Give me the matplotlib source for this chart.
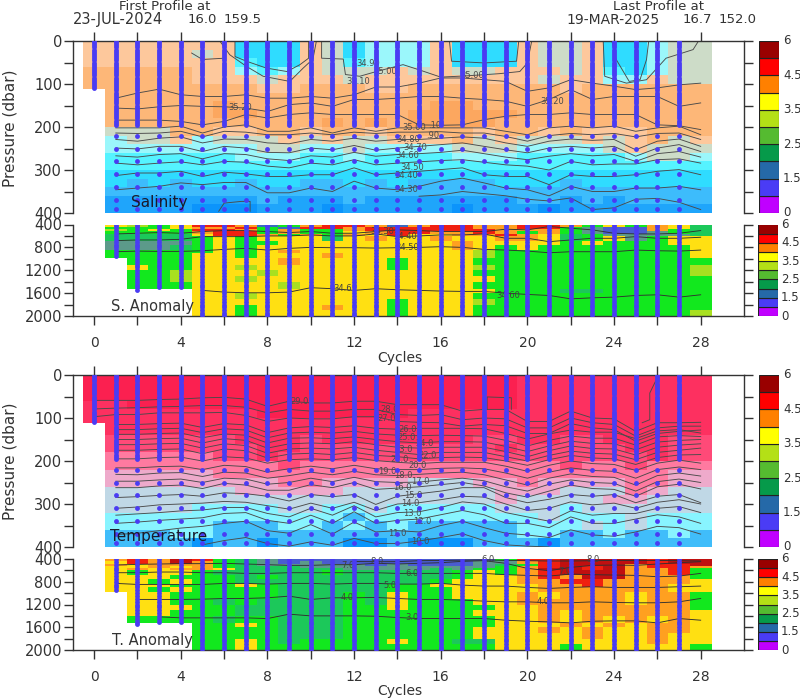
import numpy as np
import matplotlib
matplotlib.use("Agg")
import matplotlib.pyplot as plt
from matplotlib.colors import ListedColormap

#%% grids, one letter per cycle (0-28), one string per depth row
sal_rows = [
    "aaaaa aajjj agjhh hajjj aggaj jhgg",
    "aaaaa gajjj agjhh hajjj aggaj jhgg",
    "aaaaa aaijj agihh hajjj aggaj jhgg",
    "bbbbb aahih aggga gagga aagai jhgg",
    "bbbbb aaaga aagaa aaaaa agaah hagg",
    "bbbbb bbbaa bbbaa bbbbb bbabb bbbb",
    "bbbbb bbbbb bbbbb bbbbb bbbbb bbbb",
    "bbbbb bcbbb bbbbb bccbb bbbbb bbbb",
    "bbbbb bccbb bbbbb ccccc bbbbb bbbb",
    "bbbbb bbbbb bcbcb ccccb bbbbb bbbb",
    "ggggb baabb abbab bbbab babaa abbb",
    "hhgga hggga gagga aabga gggag abga",
    "hhhhh hhhgg hhghh hhggg hhhhg aggg",
    "iiiii iihhh iihii iihhh iiiii hggh",
    "jiiii iiiii iiiii iiiii iiiii iiii",
    "jjjjj jjjjj jjjjj jjjjj jjjjj jjjj",
    "kjkjk jjkjj kkjkj kkkkj jjkjj jjjj",
    "kkkkk kkkkk kkkkk kkkkk kkkkk kkkk",
    "lllll lllkl llkll lllll kklkl kkkk",
    "lllll mmmll lmlll llmll lmlll llll",
]
temp_rows = [
    "aaaaa aaaaa aaaaa aaaaa bbbbb bbbb",
    "aaaaa aaaaa aaaaa aaaaa bbbbb bbbb",
    "aaaaa aaaaa aaaaa aaaaa bbbbb bbbb",
    "bbaaa aaaaa aaaaa aaaaa bbbbb bbbb",
    "bbbbb bbbaa aaaaa bbbbb bbbbb bbbb",
    "bbbbb bbbbb bbbbb bbbbb bbbbb bbbb",
    ".bbbb bbbbb bbbbb bbbbb bbbbb bbbb",
    ".cccc ccbbb cbbbb bbbcc bbccb bbcc",
    ".cccc cccbb ccccc ccccb ccccc bbcc",
    ".dddd dccbc ccccc ccccc ccccc cbcc",
    ".dddd ddddc ddddd ddddd ddcdd cddd",
    ".eeee edddd ddddd ddddd ddddd ddee",
    ".eeee eeeed deeee fffee deeee ddee",
    ".ffff ffeee eefff ffffe eefff deff",
    ".ffff fffff fffff ffffe ffffe efff",
    ".ffff ggggf fggfg ggggf ffgff ffff",
    ".gggg ggggg gghgg ggggg gfggg fggg",
    ".gggg ghhhg ghghg hhhhh gggfg fggg",
    ".hhhg ghhhh hhhhh hhhhh gghhg hhgh",
    ".hhhh ihhih hhiih iiihh hihhh hhhh",
]
sa_rows = [
    ".ylgy rroug orrou orroo rrogy goyt",
    ".gggy oorgu rrorr rrroo rrgsv voyt",
    ".lgyg rrogo ggorr rrrro oogsv vogt",
    ".gggg orrgo ggyor rooro gogsv vsgt",
    ".tttt yrrog ogoyr yyoor oytgs ssst",
    ".tttt gygyy ytyoy yoyyo oytgy sgyy",
    ".ssss gyggy yyyyy yyoyy yygyg ggyy",
    ".ssst gygyy yyyyy yyoyg ygggg gggy",
    ".gggg gygyo yyyyy yyylg ggggg gggy",
    ".gggg yygyy yoyyy yyylg ggggg gggy",
    "..ggg yyyyo yyyyg yyygg ggggg gggg",
    "..ygg yylyy yyyyg yyylg ggggg gggl",
    "..ggl yyyly yyyyy yyygg ggggg gggl",
    "..ggl yylyy yyyyy yyyyg ggggg gggg",
    "..ggg yyyyl yyyyy yyygg ggggg gggg",
    "..... yyyyy yyyyy yyyyg ggttg gggg",
    "..... yylyy yyyyy yyygg ggggg gggg",
    "..... yyyyy yyyyg yyylg ggggg gggg",
    "..... yygyy yoyyg yyygg ggggg gggg",
    "..... yygyy yyyyg yyygg ggggg gggl",
]
ta_rows = [
    ".orod rgtsv vvvvv vvvvg rrddd drdd",
    ".yrod ogtsv svvvv vvvss orddd drdd",
    ".oyoo ogtss sssvs vvvst grddd orrd",
    ".yyoy ogttt sssss ssssg ordrd orro",
    ".yoyo oyttt ttsss stsgg oddrd oorg",
    ".ygyy gtttt tgttt ttgyg orddd oorg",
    ".yyyg ggtgt ttttt ttgyy orodd ooog",
    ".yygy ggttt ttttt tgyyy oorro oooy",
    ".yyyg ggygt ttttg gyyyy yooro ooyy",
    ".yygy ggggt ttttg ggyyy yoooo ooyy",
    "..yyg ggggt ttgty ggyyy oyooo yoog",
    "..yyg gtgtt ttgty gggyy ooooo yoog",
    "..yyy ggttt ttggy ggggy yoooo ooog",
    "..yyg ggttt ttggg gggyy yoyoo oooy",
    "..ggg gtggt ttggg ggggy yoyoy oyoy",
    "..... ggygt ttggg ggggy yyoyo yooy",
    "..... ggggt ttggg gggyy yoyoy yooy",
    "..... ggggt ttggg gggyy yyyoy yoyy",
    "..... ggygt ggggy ggtty yyyyy yoyy",
    "..... ggygg ggggg ggggy yygyy yyyg",
]
upper_edges = [0, 20, 40, 60, 80, 100, 120, 140, 160, 180, 200, 220, 240, 260, 280, 300, 320, 340, 360, 380, 400]
lower_edges = [400, 440, 480, 520, 560, 600, 680, 760, 840, 900, 980, 1100, 1200, 1300, 1400, 1520, 1600, 1700, 1800, 1900, 2000]
first_cycle_bottom = 112

sal_shades = {"a": "#fdc89c", "b": "#fdb778", "c": "#fca75f", "g": "#cddcc8", "h": "#9bf7fb", "i": "#55f3ff",
              "j": "#2fdcff", "k": "#3dbcfc", "l": "#1fa5fb", "m": "#0c94fb"}
temp_shades = {"a": "#fb2050", "b": "#fd3060", "c": "#ff4a78", "d": "#ff7aa0", "e": "#eeaacb", "f": "#c0d8e6",
               "g": "#88f4ff", "h": "#40bdfa", "i": "#0a96fb"}
anom_shades = {"g": "#12e81e", "y": "#ffe012", "o": "#ffa020", "r": "#f02010", "d": "#c01010", "t": "#1cc85a",
               "s": "#5c9a8a", "u": "#3a6cc0", "v": "#4a5cd0", "l": "#a8e020"}

#%% contour lines, depth at each cycle, second value is the first cycle of the line
sal_lines = [
    (1, [133,121,112,125,129,129,125,133,133,129,133,125,107,107,98,86,86,90,94,117,109,90,98,105,113,109,102,98]),
    (1, [156,158,153,150,152,153,156,164,148,144,152,136,136,133,129,129,133,136,140,152,136,113,136,129,129,129,152,144]),
    (1, [184,184,184,187,195,187,171,179,171,167,171,171,171,171,195,196,195,183,175,171,171,167,171,171,171,195,197,206]),
    (1, [202,202,202,198,214,200,195,210,210,202,214,202,210,202,202,202,202,202,210,218,202,198,202,198,210,202,198,218]),
    (1, [214,215,214,210,223,210,212,218,218,214,218,212,215,212,212,211,214,214,222,233,220,215,218,215,223,215,214,229]),
    (1, [229,233,226,223,237,228,229,237,239,229,233,226,233,229,229,226,223,226,237,245,233,228,231,229,253,233,228,245]),
    (1, [249,251,245,245,257,245,249,259,260,249,253,243,254,249,245,241,237,245,253,260,249,245,249,245,268,249,241,257]),
    (1, [267,270,264,262,274,262,264,274,278,267,270,259,268,264,262,259,254,262,270,276,268,262,267,264,280,262,257,270]),
    (1, [284,288,284,281,288,280,282,291,295,284,288,276,288,284,281,278,276,282,288,291,300,280,288,286,286,276,274,284]),
    (1, [313,307,307,303,315,305,309,315,315,311,311,295,311,307,303,299,295,311,315,315,334,311,315,315,311,303,299,311]),
    (1, [346,342,338,330,334,329,329,353,353,342,350,326,342,346,338,326,319,330,342,346,360,338,350,350,342,342,338,346]),
    (15, [361,358,350,355,360,368,372,365,392,388,368,366,375,392]),
]
# the bends round the fresh patches near the surface are not one value per cycle
sal_bend_x = [
    [6.5, 6.5, 7.03, 7.95, 8.9, 9.5, 9.9, 9.9],
    [5.8, 6.26, 7.03, 7.8, 9.03, 9.65, 10.1, 10.26],
    [4.5, 5, 6],
    [10.5, 10.5, 11.5, 11.6, 12.26, 13.03, 13.95, 14.26, 15, 16, 17.2, 18.7, 19.65, 20, 20.2],
    [16.4, 16.5, 18, 19.5, 19.6],
    [23.5, 23.57, 24.57, 25.5, 26.4, 27.65, 27.9],
    [23.9, 24.1, 24.7, 25.2, 25.5, 25.6],
    [5.75, 6, 6.8, 7.2, 7.2],
]
sal_bend_y = [
    [0, 36, 47, 63, 71, 55, 40, 0],
    [0, 32, 59, 82, 94, 63, 42, 0],
    [28, 43, 40],
    [0, 40, 42, 78, 82, 71, 59, 55, 67, 84, 81, 76, 71, 51, 0],
    [0, 47, 51, 47, 0],
    [0, 82, 98, 90, 40, 20, 0],
    [0, 43, 94, 90, 43, 0],
    [396, 377, 373, 373, 396],
]
temp_lines = [
    (0, [59,59,59,57,56,53,52,56,73,61,65,65,61,61,69,69,69,84,80,80,108,108,84,100,102,131,111,111,110]),
    (0, [79,77,76,74,73,71,71,75,88,80,84,84,80,80,92,94,92,104,100,102,123,123,100,111,115,142,123,119,119]),
    (0, [97,92,92,88,88,88,87,94,108,100,102,102,97,97,108,110,111,119,115,118,136,136,113,123,127,154,136,131,128]),
    (1, [115,115,113,112,122,113,116,134,123,120,122,118,124,126,124,124,124,125,136,149,137,128,133,133,148,130,127,135]),
    (1, [127,127,125,124,134,125,128,146,135,133,135,131,137,140,141,140,141,142,152,165,152,142,147,147,163,144,141,143]),
    (1, [138,138,136,135,146,137,140,158,147,146,148,144,150,155,158,155,155,156,166,178,165,154,159,160,174,156,152,150]),
    (1, [150,150,148,147,158,148,152,170,160,158,160,155,162,168,170,168,168,168,178,190,176,165,171,172,186,168,163,160]),
    (1, [162,162,160,159,170,160,164,182,172,170,172,168,175,180,185,180,180,180,190,200,187,177,182,184,197,180,175,170]),
    (1, [175,175,173,172,183,172,176,193,184,182,185,180,187,190,195,192,191,192,200,210,197,187,193,195,208,192,186,185]),
    (1, [195,195,192,191,200,190,193,205,197,195,197,192,199,203,206,203,203,203,212,224,210,200,206,208,222,205,198,205]),
    (1, [216,216,213,212,220,210,213,226,218,212,218,210,218,220,220,217,216,218,228,240,226,216,222,224,240,220,214,220]),
    (1, [231,232,228,227,236,226,228,240,234,226,232,224,232,234,231,228,226,232,244,256,240,230,236,238,256,234,228,235]),
    (1, [247,247,244,242,250,240,242,254,250,240,248,238,248,250,249,244,240,246,260,270,254,244,250,252,270,248,242,250]),
    (1, [262,262,258,256,264,252,256,268,268,255,262,250,266,263,260,255,250,258,274,284,270,256,264,266,282,260,254,265]),
    (1, [285,283,280,278,282,274,276,282,293,278,283,278,301,282,276,270,262,262,285,297,289,278,282,278,297,282,278,297]),
    (1, [310,307,302,300,298,294,296,304,312,298,310,296,315,300,297,290,282,284,300,315,310,295,302,298,310,296,290,300]),
    (1, [326,323,320,316,314,308,308,322,330,310,326,304,330,320,318,308,295,300,320,330,340,316,326,322,322,310,306,320]),
    (1, [345,342,338,335,332,322,320,338,345,326,345,318,345,338,335,325,315,325,345,345,355,330,345,345,335,325,330,345]),
    (1, [371,368,362,356,352,345,340,362,368,348,370,342,365,362,365,350,340,355,368,372,378,360,372,375,365,352,355,370]),
    (5, [395,385,378,392,398,388,396,380,392,392,386,378,369,385,395,398,400]),
]
temp_bend_x = [[18.14, 18.14, 19.26, 19.26], [25.3, 25.65, 25.65, 25.95, 26.03]]
temp_bend_y = [[80, 51, 53, 80], [111, 104, 42, 11, 0]]
sa_lines = [
    (1, [565,553,541,553,523,506,506,523,541,523,553,553,523,494,506,523,523,523,482,494,435,465,494,553,565,565,553,506]),
    (1, [682,670,670,659,612,612,612,600,600,582,600,600,565,612,600,582,582,565,641,641,700,670,641,641,612,641,641,623]),
    (1, [876,865,870,870,859,835,817,847,817,800,806,806,812,806,800,788,800,835,847,865,894,876,876,876,847,859,865,847]),
    (5, [1552,1582,1594,1594,1582,1505,1523,1552,1523,1541,1552,1564,1570,1570,1600,1623,1641,1700,1682,1670,1641,1629,1670,1629]),
]
ta_lines = [
    (12, [445,447,447,430,425,420,415,425,430,435,435,430,425,425,425,430,435]),
    (1, [506,494,488,482,482,476,488,500,512,512,500,500,476,488,476,465,441,429,476,565,606,547,512,506,512,488,465,447]),
    (1, [641,641,629,629,641,641,653,653,641,641,641,641,641,653,653,653,653,653,676,688,700,665,676,682,688,712,700,653]),
    (1, [829,847,847,847,847,829,829,841,829,829,841,829,829,841,841,829,859,876,876,900,917,900,888,900,900,900,888,876]),
    (2, [1111,1111,1111,1106,1094,1094,1082,1053,1111,1082,1082,1076,1094,1111,1111,1123,1141,1153,1153,1170,1170,1153,1164,1170,1170,1153,1094]),
    (3, [1417,1435,1435,1435,1435,1447,1370,1400,1400,1400,1406,1429,1447,1447,1447,1447,1476,1494,1505,1523,1494,1488,1488,1523,1447,1476]),
]

#%% float profiles
profile_cycles = list(range(28))
upper_dense = [0,5,10,15,20,25,30,35,40,45,50,55,60,65,70,75,80,85,90,95,100,105,110,115,120,125,130,135,140,145,150,155,160,165,170,175,180,185,190,195]
upper_deep = [220, 250, 280, 310, 340, 370, 390]
lower_dense = [400,450,500,550,600,650,700,750,800,850,900,950,1000,1050,1100,1150,1200,1250,1300,1350,1400,1450,1500,1550,1600,1650,1700,1750,1800,1850,1900,1950,1980]
upper_max = [110] + [400] * 27
lower_max = [0, 960, 1550, 1500, 1500] + [1980] * 23

#%% colour key and labels
key_colors = ["#c000ff", "#4a3cf5", "#2569a8", "#069a4a", "#55bb30", "#b4e016", "#ffff00", "#ff8000", "#ff0000", "#990000"]
key_labels = ["0", "1.5", "2.5", "3.5", "4.5", "6"]

sal_labels = [("34.90", 368, 63), ("35.00", 385, 72), ("35.10", 358, 82), ("35.20", 240, 108), ("35.00", 472, 76),
              ("35.20", 552, 102), ("35.00", 414, 128), (".10", 435, 126), ("34.80", 408, 139), (".90", 433, 135),
              ("34.70", 415, 147), ("34.60", 407, 156), ("34.50", 412, 167), ("34.40", 406, 176), ("34.30", 406, 189)]
sa_labels = [("34.30", 382, 231), ("34.40", 405, 237), ("34.50", 407, 248), ("34.6", 343, 289), ("34.60", 508, 295)]
temp_labels = [("29.0", 300, 402), ("28.0", 390, 410), ("27.0", 387, 418), ("26.0", 408, 429), ("25.0", 407, 438),
               ("24.0", 425, 444), ("23.0", 404, 449), ("22.0", 428, 456), ("21.0", 400, 459), ("20.0", 418, 466),
               ("19.0", 387, 472), ("18.0", 403, 475), ("17.0", 420, 481), ("16.0", 402, 487), ("15.0", 413, 495),
               ("14.0", 410, 503), ("13.0", 412, 513), ("12.0", 422, 521), ("11.0", 397, 533), ("10.0", 420, 542)]
ta_labels = [("8.0", 377, 562), ("7.0", 348, 565), ("6.0", 412, 573), ("5.0", 390, 585), ("4.0", 347, 598),
             ("4.0", 543, 602), ("3.0", 412, 618), ("7.0", 565, 571), ("8.0", 593, 560), ("6.0", 488, 560)]

W, H = 800, 700
ink = "#333333"
float_blue = "#4a3cf3"
plt.rcParams["font.family"] = "DejaVu Sans"
fig = plt.figure(figsize=(W / 100, H / 100), dpi=100)


def box(x0, y0, x1, y1):
    return [x0 / W, 1 - y1 / H, (x1 - x0) / W, (y1 - y0) / H]


def put(text, x, y, size=10, ha="left", va="center", color=ink, rotation=0):
    fig.text(x / W, 1 - y / H, text, fontsize=size, ha=ha, va=va, color=color, rotation=rotation)


def grid_panel(ax, rows, shades, edges):
    letters = list(shades)
    cmap = ListedColormap([shades[k] for k in letters])
    table = [list(r.replace(" ", "")) for r in rows]
    vals = [[letters.index(c) if c != "." else np.nan for c in r] for r in table]
    ax.pcolormesh(np.arange(-0.5, 29), edges, np.ma.masked_invalid(vals), cmap=cmap,
                  vmin=-0.5, vmax=len(letters) - 0.5, linewidth=0, rasterized=True, zorder=1)


def draw_lines(ax, lines, color, lw=0.65):
    for start, depth in lines:
        ax.plot(np.arange(start, start + len(depth)), depth, color=color, lw=lw, zorder=2)


def draw_labels(ax, labels, color):
    for text, x, y in labels:
        ax.text(x / W, 1 - y / H, text, transform=fig.transFigure, fontsize=6, color=color,
                ha="center", va="center", zorder=2, clip_on=False)


def style_panel(ax, ylim, yticks, ylabels, at_top):
    ax.set_xlim(-1, 30)
    ax.set_ylim(ylim[1], ylim[0])
    ax.set_yticks(yticks)
    ax.set_yticklabels(ylabels)
    ax.set_xticks(np.arange(0, 30, 2))
    ax.spines["top"].set_visible(at_top)
    ax.spines["bottom"].set_visible(not at_top)
    ax.spines["right"].set_visible(True)
    if at_top:
        ax.tick_params(axis="x", top=True, bottom=False, labeltop=False, labelbottom=False)
    else:
        ax.set_xticklabels(["0" if c == 0 else str(c) if c % 4 == 0 else "" for c in np.arange(0, 30, 2)])
        ax.tick_params(axis="x", top=False, bottom=True, labelsize=10, pad=8)
    ax.tick_params(axis="both", length=6.5, width=1, color=ink, labelcolor=ink)
    ax.tick_params(axis="y", left=True, right=True, labelsize=10.5, pad=1)
    for s in ax.spines.values():
        s.set_linewidth(1)
        s.set_color(ink)


def draw_key(x0, y0, x1, y1, label_x):
    ax = fig.add_axes(box(x0, y0, x1, y1))
    ax.bar([0] * 10, [1] * 10, bottom=np.arange(10), width=1, color=key_colors, edgecolor="#222222", linewidth=0.8)
    ax.set_xlim(-0.5, 0.5)
    ax.set_ylim(0, 10)
    ax.axis("off")
    for i, text in enumerate(key_labels):
        put(text, label_x, y1 - (y1 - y0) * i * 2 / 10, size=8.5)


def upper_panel(y0, y1, rows, shades, lines, labels, line_color):
    ax = fig.add_axes(box(72.5, y0, 744, y1))
    grid_panel(ax, rows, shades, upper_edges)
    ax.bar(0, 400 - first_cycle_bottom, bottom=first_cycle_bottom, width=1, color="white", zorder=1.5)
    draw_lines(ax, lines, line_color)
    draw_labels(ax, labels, line_color)
    for c in profile_cycles:
        dense = [d for d in upper_dense if d <= upper_max[c]]
        deep = [d for d in upper_deep if d <= upper_max[c]]
        ax.plot([c] * len(dense), dense, "o", ms=3.5, mfc=float_blue, mec="none", zorder=3)
        ax.plot([c] * len(deep), deep, "o", ms=3.5, mfc=float_blue, mec="none", zorder=3)
    style_panel(ax, (0, 400), np.arange(0, 401, 50), ["0" if d == 0 else str(d) if d % 100 == 0 else "" for d in np.arange(0, 401, 50)], True)
    return ax


def lower_panel(y0, y1, rows, lines, labels):
    ax = fig.add_axes(box(72.5, y0, 744, y1))
    grid_panel(ax, rows, anom_shades, lower_edges)
    draw_lines(ax, lines, "#303030")
    draw_labels(ax, labels, "#404040")
    for c in profile_cycles:
        dense = [d for d in lower_dense if d <= lower_max[c]]
        ax.plot([c] * len(dense), dense, "o", ms=3.5, mfc=float_blue, mec="none", zorder=3)
    style_panel(ax, (400, 2000), np.arange(400, 2001, 200), [str(d) if d % 400 == 0 else "" for d in np.arange(400, 2001, 200)], False)
    return ax


#%% the four panels
ax_sal = upper_panel(41, 213, sal_rows, sal_shades, sal_lines, sal_labels, "#4a4a4a")
for bx, by in zip(sal_bend_x, sal_bend_y):
    ax_sal.plot(bx, by, color="#4a4a4a", lw=0.65, zorder=2)
lower_panel(224.5, 316, sa_rows, sa_lines, sa_labels)
ax_temp = upper_panel(375, 547, temp_rows, temp_shades, temp_lines, temp_labels, "#4a4a4a")
for bx, by in zip(temp_bend_x, temp_bend_y):
    ax_temp.plot(bx, by, color="#4a4a4a", lw=0.65, zorder=2)
lower_panel(559, 650, ta_rows, ta_lines, ta_labels)

draw_key(759, 41, 779, 213, 783)
draw_key(758, 224.5, 778, 316, 781)
draw_key(759, 375, 779, 547, 783)
draw_key(758, 559, 778, 650, 781)

#%% header and panel names
put("First Profile at", 119, 7, size=9.5)
put("23-JUL-2024", 73, 19.5, size=10.5)
put("16.0", 188, 19.5, size=9.5)
put("159.5", 224, 19.5, size=9.5)
put("Last Profile at", 613, 7, size=9.5)
put("19-MAR-2025", 566, 19.5, size=10)
put("16.7", 683, 19.5, size=9.5)
put("152.0", 719, 19.5, size=9.5)

put("Salinity", 131, 202, size=11, color="#1a1a2a")
put("S. Anomaly", 111, 306, size=10.5)
put("Temperature", 110, 536, size=11, color="#1a1a2a")
put("T. Anomaly", 112, 640, size=10.5)
put("Cycles", 400, 358, ha="center")
put("Cycles", 400, 691, ha="center")
put("Pressure (dbar)", 10, 128, ha="center", rotation=90, size=11)
put("Pressure (dbar)", 10, 461, ha="center", rotation=90, size=11)

fig.savefig("out.png", dpi=100)
